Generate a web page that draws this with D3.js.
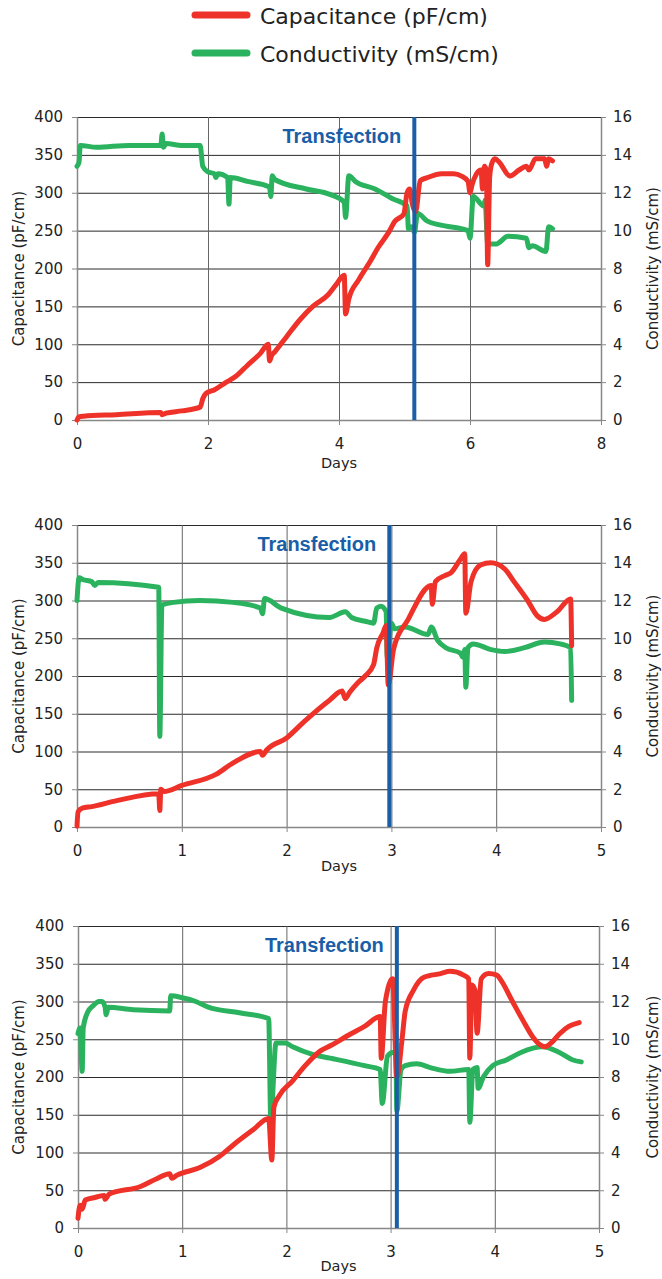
<!DOCTYPE html>
<html>
<head>
<meta charset="utf-8">
<script src="https://cdn.jsdelivr.net/npm/d3@7"></script>
<style>
  body { margin: 0; background: #fff; }
  svg text { font-family: "DejaVu Sans", sans-serif; fill: #222; }
  svg text.transfection { font-family: "Liberation Sans", Arial, sans-serif; font-weight: bold; }
</style>
</head>
<body>
<div id="chart"></div>
<script>
// [day, pF/cm]
const cap1 = [[0,0],[0.03,4],[0.1,5],[0.6,7],[1.28,10],[1.3,7],[1.36,9],[1.6,12],[1.88,17],[1.92,28],[1.97,35],[2.1,40],[2.28,50],[2.43,58],[2.6,72],[2.8,88],[2.92,100],[2.94,78],[2.97,85],[3.02,90],[3.2,110],[3.4,132],[3.6,150],[3.83,165],[3.95,178],[4.08,191],[4.1,140],[4.15,160],[4.3,185],[4.48,210],[4.6,228],[4.76,248],[4.85,262],[4.99,272],[5.04,300],[5.08,305],[5.12,285],[5.17,275],[5.24,316],[5.35,320],[5.57,325],[5.75,325],[5.87,322],[5.97,315],[6.0,300],[6.03,310],[6.1,325],[6.17,330],[6.19,305],[6.22,335],[6.25,330],[6.27,205],[6.3,320],[6.33,338],[6.38,345],[6.45,340],[6.61,322],[6.75,330],[6.86,335],[6.9,330],[7.0,345],[7.14,345],[7.17,335],[7.2,345],[7.26,342]];
// [day, mS/cm]
const cond1 = [[0,13.4],[0.03,13.6],[0.05,14.5],[0.3,14.4],[0.8,14.5],[1.28,14.5],[1.3,15.1],[1.32,14.4],[1.36,14.6],[1.6,14.5],[1.88,14.5],[1.92,13.4],[2.0,13.1],[2.1,13.0],[2.12,12.8],[2.15,13.0],[2.3,12.8],[2.32,11.4],[2.34,12.8],[2.6,12.6],[2.94,12.3],[2.96,11.8],[2.98,12.9],[3.02,12.7],[3.5,12.2],[3.87,11.9],[4.08,11.5],[4.1,10.7],[4.15,12.9],[4.25,12.6],[4.55,12.2],[4.81,11.7],[5.04,11.3],[5.06,10.1],[5.12,10.2],[5.15,9.9],[5.2,10.9],[5.35,10.5],[5.54,10.3],[5.97,10.0],[6.0,9.6],[6.05,11.8],[6.21,11.3],[6.23,11.6],[6.27,9.3],[6.4,9.3],[6.58,9.7],[6.86,9.6],[6.9,9.1],[6.95,9.2],[7.16,8.9],[7.2,10.2],[7.26,10.1]];

const cap2 = [[0,1],[0.01,20],[0.05,25],[0.14,27],[0.38,35],[0.78,44],[0.79,22],[0.8,50],[0.83,47],[1.0,55],[1.33,70],[1.49,85],[1.75,100],[1.77,95],[1.81,102],[2.0,118],[2.17,140],[2.41,168],[2.53,180],[2.56,170],[2.6,178],[2.68,191],[2.75,200],[2.83,215],[2.86,237],[2.92,257],[2.95,267],[2.97,188],[3.02,235],[3.16,275],[3.38,320],[3.39,295],[3.42,325],[3.51,333],[3.57,337],[3.66,355],[3.7,362],[3.71,283],[3.76,325],[3.85,347],[3.95,350],[4.08,342],[4.17,325],[4.3,300],[4.39,280],[4.46,275],[4.58,285],[4.71,302],[4.72,240]];
const cond2 = [[0,12.0],[0.02,13.2],[0.06,13.1],[0.14,13.0],[0.17,12.8],[0.2,12.96],[0.78,12.7],[0.79,4.8],[0.81,11.76],[0.92,11.9],[1.17,12.0],[1.49,11.9],[1.75,11.6],[1.77,11.3],[1.79,12.1],[1.95,11.6],[2.41,11.1],[2.56,11.4],[2.62,11.1],[2.75,10.9],[2.83,10.8],[2.86,11.6],[2.9,11.7],[2.95,11.4],[2.96,9.0],[3.0,10.8],[3.03,10.5],[3.13,10.6],[3.35,10.2],[3.38,10.6],[3.44,9.9],[3.52,9.5],[3.66,9.2],[3.68,9.0],[3.7,9.4],[3.71,7.4],[3.73,9.5],[3.78,9.7],[3.95,9.4],[4.08,9.3],[4.27,9.5],[4.46,9.8],[4.61,9.7],[4.71,9.5],[4.72,6.7]];

const cap3 = [[0,13],[0.02,30],[0.04,25],[0.07,37],[0.15,40],[0.25,43],[0.26,38],[0.3,45],[0.6,55],[0.75,65],[0.88,72],[0.9,66],[0.95,70],[1.17,80],[1.36,95],[1.49,110],[1.68,130],[1.83,145],[1.86,90],[1.88,160],[1.93,175],[2.06,195],[2.18,215],[2.33,235],[2.43,242],[2.59,255],[2.75,267],[2.9,280],[2.91,225],[2.95,300],[3.02,330],[3.06,200],[3.11,250],[3.14,287],[3.22,315],[3.32,332],[3.48,337],[3.57,340],[3.7,335],[3.75,330],[3.76,225],[3.78,322],[3.81,315],[3.83,258],[3.87,330],[3.94,337],[4.02,335],[4.06,328],[4.17,300],[4.27,275],[4.37,252],[4.43,243],[4.48,240],[4.54,245],[4.62,257],[4.71,267],[4.81,272]];
const cond3 = [[0,10.3],[0.02,10.6],[0.04,8.3],[0.05,10.6],[0.09,11.4],[0.15,11.8],[0.2,12.0],[0.23,12.0],[0.26,11.7],[0.27,11.3],[0.29,11.7],[0.53,11.56],[0.88,11.5],[0.89,12.3],[1.0,12.2],[1.13,12.0],[1.25,11.7],[1.55,11.4],[1.83,11.1],[1.85,5.8],[1.9,9.8],[1.99,9.8],[2.06,9.6],[2.25,9.2],[2.42,9.0],[2.75,8.6],[2.9,8.4],[2.92,6.6],[2.97,9.1],[3.02,9.3],[3.05,9.3],[3.06,6.2],[3.1,8.4],[3.14,8.6],[3.25,8.7],[3.38,8.5],[3.57,8.3],[3.75,8.4],[3.76,5.6],[3.79,8.4],[3.83,8.5],[3.84,7.4],[3.89,8.0],[3.98,8.6],[4.11,8.9],[4.25,9.3],[4.46,9.6],[4.62,9.3],[4.75,8.9],[4.83,8.8]];

const transfectionDays = [5.15, 2.98, 3.06];
const xMaxDays = [8, 5, 5];
const xTickStep = [2, 1, 1];
const capTicks = [0, 50, 100, 150, 200, 250, 300, 350, 400];
const condTicks = [0, 2, 4, 6, 8, 10, 12, 14, 16];
const legendLabels = ["Capacitance (pF/cm)", "Conductivity (mS/cm)"];

const red = "#ee3229",
  green = "#2bb25e",
  blue = "#1a5ea8";

const width = 662,
  height = 1279;

const svg = d3
  .select("#chart")
  .append("svg")
  .attr("width", width)
  .attr("height", height);

// legend
const legend = svg.append("g");
[red, green].forEach((c, i) => {
  const y = 15 + i * 38;
  legend
    .append("line")
    .attr("x1", 195)
    .attr("x2", 247)
    .attr("y1", y)
    .attr("y2", y)
    .attr("stroke", c)
    .attr("stroke-width", 7)
    .attr("stroke-linecap", "round");
  legend
    .append("text")
    .attr("x", 260)
    .attr("y", y + 9)
    .attr("font-size", 22)
    .text(legendLabels[i]);
});

const panels = [
  { cap: cap1, cond: cond1, left: 77, right: 601, top: 117, bottom: 420, daysY: 468 },
  { cap: cap2, cond: cond2, left: 77, right: 601, top: 525, bottom: 827, daysY: 871 },
  { cap: cap3, cond: cond3, left: 78, right: 599, top: 926, bottom: 1228, daysY: 1271 },
];

const drawPanel = (p, i) => {
  const g = svg.append("g");
  const xScale = d3.scaleLinear().domain([0, xMaxDays[i]]).range([p.left, p.right]);
  const yCap = d3.scaleLinear().domain([0, 400]).range([p.bottom, p.top]);
  const yCond = d3.scaleLinear().domain([0, 16]).range([p.bottom, p.top]);
  const xTicks = d3.range(0, xMaxDays[i] + 0.001, xTickStep[i]);

  // grid
  g.append("g")
    .attr("transform", `translate(${p.left},0)`)
    .call(d3.axisLeft(yCap).tickValues(capTicks).tickSize(-(p.right - p.left)).tickFormat(""))
    .call((s) => s.select(".domain").remove())
    .call((s) => s.selectAll("line").attr("stroke", "#2a2a2a"));
  g.append("g")
    .attr("transform", `translate(0,${p.bottom})`)
    .call(d3.axisBottom(xScale).tickValues(xTicks).tickSize(-(p.bottom - p.top)).tickFormat(""))
    .call((s) => s.select(".domain").remove())
    .call((s) => s.selectAll("line").attr("stroke", "#666"));

  // axes
  const styleAxis = (s) => {
    s.select(".domain").attr("stroke", "#888").attr("stroke-width", 1.5);
    s.selectAll(".tick line").attr("stroke", "#888");
    s.selectAll("text").attr("font-size", 15).attr("fill", "#222");
  };
  g.append("g")
    .attr("transform", `translate(${p.left},0)`)
    .call(d3.axisLeft(yCap).tickValues(capTicks).tickSize(5).tickSizeOuter(0).tickPadding(9))
    .call(styleAxis);
  g.append("g")
    .attr("transform", `translate(${p.right},0)`)
    .call(d3.axisRight(yCond).tickValues(condTicks).tickSize(5).tickSizeOuter(0).tickPadding(7))
    .call(styleAxis);
  g.append("g")
    .attr("transform", `translate(0,${p.bottom})`)
    .call(d3.axisBottom(xScale).tickValues(xTicks).tickSize(5).tickSizeOuter(0).tickPadding(13).tickFormat(d3.format("d")))
    .call(styleAxis);

  // axis titles
  g.append("text")
    .attr("transform", `translate(24,${(p.top + p.bottom) / 2}) rotate(-90)`)
    .attr("text-anchor", "middle")
    .attr("font-size", 15)
    .text("Capacitance (pF/cm)");
  g.append("text")
    .attr("transform", `translate(658,${(p.top + p.bottom) / 2}) rotate(-90)`)
    .attr("text-anchor", "middle")
    .attr("font-size", 15)
    .text("Conductivity (mS/cm)");
  g.append("text")
    .attr("x", (p.left + p.right) / 2)
    .attr("y", p.daysY)
    .attr("text-anchor", "middle")
    .attr("font-size", 14.5)
    .text("Days");

  // series
  const capLine = d3.line().curve(d3.curveMonotoneX).x((d) => xScale(d[0])).y((d) => yCap(d[1]));
  const condLine = d3.line().curve(d3.curveMonotoneX).x((d) => xScale(d[0])).y((d) => yCond(d[1]));
  g.append("path")
    .datum(p.cond)
    .attr("d", condLine)
    .attr("fill", "none")
    .attr("stroke", green)
    .attr("stroke-width", 5)
    .attr("stroke-linejoin", "round")
    .attr("stroke-linecap", "round");
  g.append("path")
    .datum(p.cap)
    .attr("d", capLine)
    .attr("fill", "none")
    .attr("stroke", red)
    .attr("stroke-width", 5)
    .attr("stroke-linejoin", "round")
    .attr("stroke-linecap", "round");

  // transfection marker
  const tx = xScale(transfectionDays[i]);
  g.append("line")
    .attr("x1", tx)
    .attr("x2", tx)
    .attr("y1", p.top)
    .attr("y2", p.bottom)
    .attr("stroke", blue)
    .attr("stroke-width", 4);
  g.append("text")
    .attr("class", "transfection")
    .attr("x", tx - 13)
    .attr("y", p.top + 26)
    .attr("text-anchor", "end")
    .attr("font-size", 20)
    .style("fill", blue)
    .text("Transfection");
};

panels.forEach(drawPanel);
</script>
</body>
</html>
